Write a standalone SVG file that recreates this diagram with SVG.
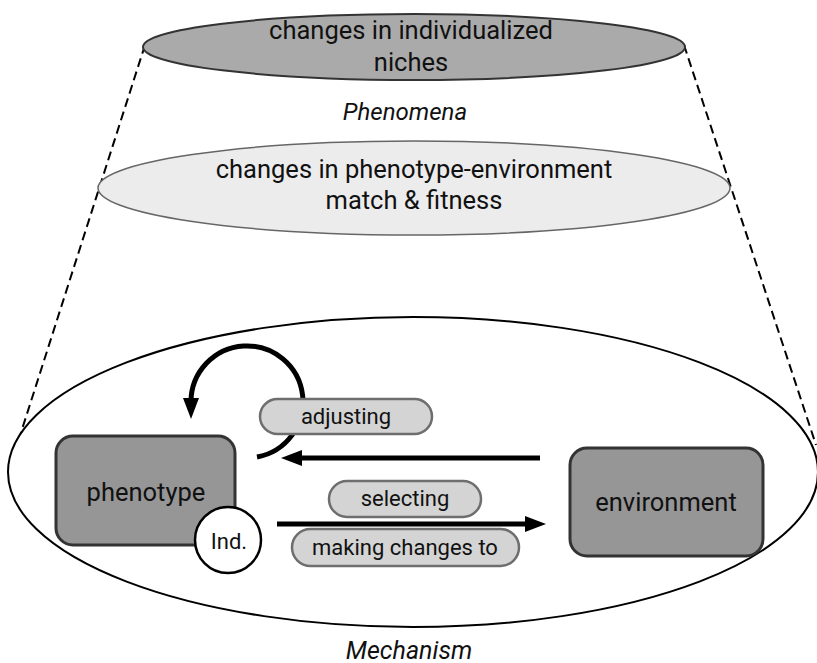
<svg xmlns="http://www.w3.org/2000/svg" width="817" height="663" viewBox="0 0 817 663">
<style>
text{font-family:Roboto,"Liberation Sans",sans-serif;fill:#111;text-anchor:middle;dominant-baseline:central}
.box{fill:#969696;stroke:#333;stroke-width:3}
.pill{fill:#d4d4d4;stroke:#6e6e6e;stroke-width:2.5}
.arr{fill:none;stroke:#000;stroke-width:5}
.dash{fill:none;stroke:#000;stroke-width:2;stroke-dasharray:9 5}
.it{font-style:italic}
</style>
<defs>
<marker id="ah" markerUnits="userSpaceOnUse" markerWidth="22" markerHeight="18" viewBox="0 0 22 18" refX="4" refY="9" orient="auto">
<path d="M0,1 L21,9 L0,17 z" fill="#000"/>
</marker>
</defs>
<g id="frame">
<line class="dash" x1="145" y1="45" x2="9" y2="470"/>
<line class="dash" x1="684" y1="45" x2="816" y2="445"/>
</g>
<g id="mechanism">
<ellipse cx="413" cy="472" rx="405" ry="155" fill="#fff" stroke="#000" stroke-width="2"/>
<text class="it" x="409" y="650" font-size="25">Mechanism</text>
</g>
<g id="niches">
<ellipse cx="414" cy="47" rx="271" ry="33" fill="#aaaaaa" stroke="#333" stroke-width="2"/>
<text x="411" y="30" font-size="25.5">changes in individualized</text>
<text x="411" y="62" font-size="25.5">niches</text>
</g>
<text class="it" x="405" y="112" font-size="24">Phenomena</text>
<g id="match">
<ellipse cx="414" cy="188" rx="316" ry="47" fill="#ececec" stroke="#666" stroke-width="1.5"/>
<text x="414" y="169" font-size="25.5">changes in phenotype-environment</text>
<text x="414" y="200" font-size="25.5">match &amp; fitness</text>
</g>
<g id="connectors">
<path class="arr" d="M257,457 A56,56 0 1 0 191,402" marker-end="url(#ah)"/>
<line class="arr" x1="540" y1="458" x2="298" y2="458" marker-end="url(#ah)"/>
<line class="arr" x1="277" y1="524" x2="529" y2="524" marker-end="url(#ah)"/>
</g>
<g id="adjusting">
<rect class="pill" x="260" y="399" width="172" height="35" rx="17.5"/>
<text x="346" y="416" font-size="22">adjusting</text>
</g>
<g id="selecting">
<rect class="pill" x="329" y="481" width="152" height="36" rx="18"/>
<text x="405" y="498" font-size="22">selecting</text>
</g>
<g id="making">
<rect class="pill" x="292" y="529" width="227" height="37" rx="18.5"/>
<text x="405" y="547" font-size="22">making changes to</text>
</g>
<g id="phenotype">
<rect class="box" x="56" y="436" width="179" height="109" rx="17"/>
<text x="146" y="492" font-size="25.5">phenotype</text>
</g>
<g id="ind">
<circle cx="228" cy="540" r="33" fill="#fff" stroke="#000" stroke-width="2.5"/>
<text x="229" y="541" font-size="22">Ind.</text>
</g>
<g id="environment">
<rect class="box" x="570" y="448" width="193" height="108" rx="17"/>
<text x="666" y="502" font-size="25.5">environment</text>
</g>
</svg>
